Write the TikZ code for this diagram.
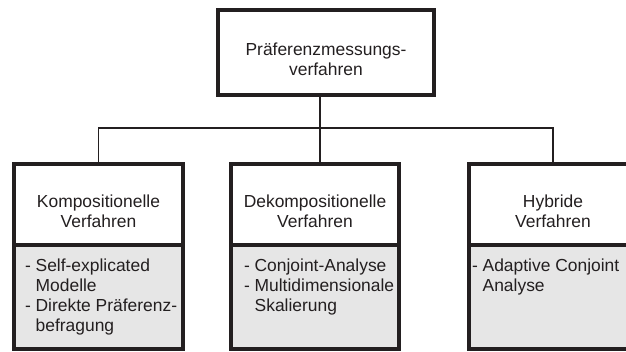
\documentclass[tikz,border=0pt]{standalone}
\usepackage{fontspec}
\setmainfont{Liberation Sans}
\definecolor{inkblack}{HTML}{231F20}
\definecolor{listgray}{HTML}{E6E6E6}

\begin{document}
\begin{tikzpicture}[x=1bp, y=-1bp, color=inkblack,
      every node/.append style={font=\fontsize{17.5}{20}\selectfont, inner sep=0pt, outer sep=0pt},
      box/.style={draw=inkblack, line width=4.5bp, minimum width=168bp},
      headbox/.style={box, fill=white, minimum height=81bp},
      listbox/.style={box, fill=listgray, minimum height=104bp},
      title/.style={anchor=north, align=center},
      items/.style={anchor=north west, align=left},
      link/.style={draw=inkblack, line width=1.6bp}]
    \useasboundingbox (0,0) rectangle (626,351);
    \node (root) [box, minimum width=216bp, minimum height=85bp] at (326,52.5) {};
    \node (rootTitle) [title] at (326,42.5) {Präferenzmessungs-\\verfahren};

    \node (kompList) [listbox, minimum width=169bp] at (98.5,297) {};
    \node (kompHead) [headbox, minimum width=169bp] at (98.5,204.5) {};
    \node (dekompList) [listbox] at (315,297) {};
    \node (dekompHead) [headbox] at (315,204.5) {};
    \node (hybridList) [listbox] at (553,297) {};
    \node (hybridHead) [headbox] at (553,204.5) {};

    \node (kompTitle) [title] at (98.5,195) {Kompositionelle\\Verfahren};
    \node (dekompTitle) [title] at (315,195) {Dekompositionelle\\Verfahren};
    \node (hybridTitle) [title] at (553,195) {Hybride\\Verfahren};

    \node (kompItems) [items] at (25,259) {- Self-explicated\\\hphantom{- }Modelle\\- Direkte Präferenz-\\\hphantom{- }befragung};
    \node (dekompItems) [items] at (244,259) {- Conjoint-Analyse\\- Multidimensionale\\\hphantom{- }Skalierung};
    \node (hybridItems) [items] at (472,259) {- Adaptive Conjoint\\\hphantom{- }Analyse};

    \coordinate (bus) at (320,128);
    \draw [link] (root.south -| bus) -- (bus);
    \draw [link] (bus) -- (bus |- dekompHead.north);
    \draw [link] (kompHead.north) |- (bus) -| (hybridHead.north);
\end{tikzpicture}
\end{document}
